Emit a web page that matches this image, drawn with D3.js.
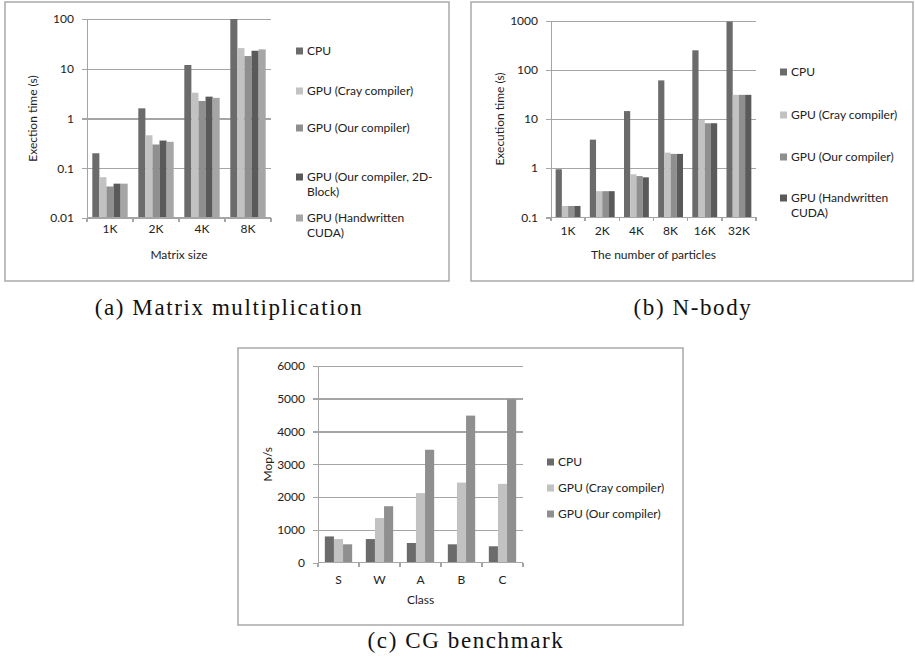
<!DOCTYPE html>
<html lang='en'>
<head>
<meta charset="utf-8">
<style>
body { margin: 0; background: #fff; }
svg { display: block; }
text { font-family: Lato, "Open Sans", sans-serif; font-size: 12px; fill: #222; }
.caption { font-family: "Liberation Serif", "DejaVu Serif", serif; font-size: 23px; letter-spacing: 1.6px; fill: #111; }
.box { fill: #fff; stroke: #a9a9a9; stroke-width: 1.5px; }
.grid line { stroke: #a5a5a5; stroke-width: 1.4px; shape-rendering: crispEdges; }
.grid path { display: none; }
.axis path, .axis line { stroke: #a5a5a5; stroke-width: 1.4px; shape-rendering: crispEdges; }
</style>
</head>
<body>
<svg width="915" height="665"></svg>
<script src="https://cdn.jsdelivr.net/npm/d3@7"></script>
<script>
  // (a) matrix multiplication, execution time (s)
  var matCategories = ["1K", "2K", "4K", "8K"],
      matCPU  = [0.2, 1.6, 11.9, 100],
      matCray = [0.066, 0.46, 3.3, 26],
      matOur  = [0.043, 0.30, 2.25, 18],
      mat2D   = [0.049, 0.36, 2.75, 23],
      matHand = [0.049, 0.34, 2.6, 24.5],
      matTicks = [0.01, 0.1, 1, 10, 100];

  // (b) n-body, execution time (s)
  var nbCategories = ["1K", "2K", "4K", "8K", "16K", "32K"],
      nbCPU  = [0.95, 3.8, 14.5, 61, 250, 960],
      nbCray = [0.17, 0.34, 0.75, 2.07, 9.7, 31],
      nbOur  = [0.17, 0.34, 0.69, 1.95, 8.2, 31],
      nbHand = [0.17, 0.34, 0.65, 1.95, 8.2, 31],
      nbTicks = [0.1, 1, 10, 100, 1000];

  // (c) CG benchmark, Mop/s
  var cgCategories = ["S", "W", "A", "B", "C"],
      cgCPU  = [800, 720, 600, 560, 500],
      cgCray = [720, 1360, 2120, 2440, 2400],
      cgOur  = [560, 1720, 3440, 4480, 4980],
      cgTicks = [0, 1000, 2000, 3000, 4000, 5000, 6000];

  var cCPU = "#6b6b6b", cCray = "#c2c2c2", cOur = "#8f8f8f", cDark = "#5a5a5a", cHand = "#a6a6a6";

  var svg = d3.select("svg");

  function panel(cfg) {
    var g = svg.append("g");
    g.append("rect").attr("class", "box")
        .attr("x", cfg.box[0]).attr("y", cfg.box[1])
        .attr("width", cfg.box[2] - cfg.box[0]).attr("height", cfg.box[3] - cfg.box[1]);

    var p = cfg.plot,
        x = d3.scaleBand().domain(cfg.categories).range([p.x0, p.x1]),
        xs = d3.scaleBand().domain(d3.range(cfg.series.length))
            .range([0, x.bandwidth()]).paddingInner(0).paddingOuter(0.75),
        y = (cfg.log ? d3.scaleLog() : d3.scaleLinear())
            .domain([cfg.ticks[0], cfg.ticks[cfg.ticks.length - 1]])
            .range([p.y1, p.y0]);

    g.append("g").attr("class", "grid")
        .attr("transform", "translate(" + p.x0 + ",0)")
        .call(d3.axisLeft(y).tickValues(cfg.ticks.slice(1)).tickSize(-(p.x1 - p.x0)).tickFormat(""));

    cfg.series.forEach(function(s, i) {
      g.append("g").selectAll("rect")
        .data(s.values)
        .enter().append("rect")
          .attr("x", function(d, j) { return x(cfg.categories[j]) + xs(i); })
          .attr("width", xs.bandwidth())
          .attr("y", function(d) { return y(d); })
          .attr("height", function(d) { return y.range()[0] - y(d); })
          .attr("fill", s.color);
    });

    var ya = g.append("g").attr("class", "axis")
        .attr("transform", "translate(" + p.x0 + ",0)")
        .call(d3.axisLeft(y).tickValues(cfg.ticks).tickSize(5).tickSizeOuter(0).tickPadding(8)
          .tickFormat(function(d) { return String(d); }));
    ya.selectAll("text").style("font-size", "12px").style("font-family", null);

    // category axis: ticks sit between the groups
    var xa = g.append("g").attr("class", "axis");
    xa.append("line").attr("x1", p.x0).attr("x2", p.x1).attr("y1", p.y1).attr("y2", p.y1);
    xa.selectAll(".tk")
      .data(cfg.categories.map(function(c) { return x(c); }).concat([p.x1]))
      .enter().append("line")
        .attr("x1", function(d) { return d; }).attr("x2", function(d) { return d; })
        .attr("y1", p.y1).attr("y2", p.y1 + 4);
    xa.selectAll("text")
      .data(cfg.categories)
      .enter().append("text")
        .attr("x", function(d) { return x(d) + x.bandwidth() / 2; })
        .attr("y", p.y1 + cfg.xLabelGap)
        .attr("text-anchor", "middle")
        .attr("dy", "0.35em")
        .text(function(d) { return d; });

    g.append("text")
        .attr("transform", "translate(" + cfg.yTitleX + "," + (p.y0 + p.y1) / 2 + ") rotate(-90)")
        .attr("text-anchor", "middle").attr("dy", "0.35em")
        .text(cfg.yTitle);
    g.append("text")
        .attr("x", (p.x0 + p.x1) / 2).attr("y", cfg.xTitleY)
        .attr("text-anchor", "middle").attr("dy", "0.35em")
        .text(cfg.xTitle);

    cfg.series.forEach(function(s, i) {
      var ly = cfg.legend.y[i];
      g.append("rect").attr("x", cfg.legend.x).attr("y", ly - 3.5)
          .attr("width", 7).attr("height", 7).attr("fill", s.color);
      var t = g.append("text").attr("x", cfg.legend.x + 11).attr("y", ly).attr("dy", "0.35em");
      s.label.forEach(function(line, k) {
        t.append("tspan").attr("x", cfg.legend.x + 11).attr("dy", k === 0 ? "0.35em" : "1.25em").text(line);
      });
    });

    svg.append("text").attr("class", "caption")
        .attr("x", cfg.caption.x).attr("y", cfg.caption.y)
        .attr("text-anchor", "middle")
        .text(cfg.caption.text);
  }

  panel({
    box: [5, 2, 449, 281],
    plot: {x0: 87, x1: 271, y0: 19, y1: 218},
    log: true,
    ticks: matTicks,
    categories: matCategories,
    series: [
      {values: matCPU, color: cCPU, label: ["CPU"]},
      {values: matCray, color: cCray, label: ["GPU (Cray compiler)"]},
      {values: matOur, color: cOur, label: ["GPU (Our compiler)"]},
      {values: mat2D, color: cDark, label: ["GPU (Our compiler, 2D-", "Block)"]},
      {values: matHand, color: cHand, label: ["GPU (Handwritten", "CUDA)"]}
    ],
    xLabelGap: 11,
    yTitle: "Exection time (s)", yTitleX: 33,
    xTitle: "Matrix size", xTitleY: 255,
    legend: {x: 296, y: [51, 91, 128, 177, 218]},
    caption: {text: "(a) Matrix multiplication", x: 229, y: 315}
  });

  panel({
    box: [471, 2, 913, 281],
    plot: {x0: 551, x1: 756, y0: 20.7, y1: 217.3},
    log: true,
    ticks: nbTicks,
    categories: nbCategories,
    series: [
      {values: nbCPU, color: cCPU, label: ["CPU"]},
      {values: nbCray, color: cCray, label: ["GPU (Cray compiler)"]},
      {values: nbOur, color: cOur, label: ["GPU (Our compiler)"]},
      {values: nbHand, color: cDark, label: ["GPU (Handwritten", "CUDA)"]}
    ],
    xLabelGap: 13,
    yTitle: "Execution time (s)", yTitleX: 500,
    xTitle: "The number of particles", xTitleY: 255,
    legend: {x: 780, y: [72, 115, 157, 198]},
    caption: {text: "(b) N-body", x: 693, y: 315}
  });

  panel({
    box: [238, 348, 683, 625],
    plot: {x0: 318, x1: 523, y0: 365.7, y1: 562.7},
    log: false,
    ticks: cgTicks,
    categories: cgCategories,
    series: [
      {values: cgCPU, color: cCPU, label: ["CPU"]},
      {values: cgCray, color: cCray, label: ["GPU (Cray compiler)"]},
      {values: cgOur, color: cOur, label: ["GPU (Our compiler)"]}
    ],
    xLabelGap: 17,
    yTitle: "Mop/s", yTitleX: 268,
    xTitle: "Class", xTitleY: 600,
    legend: {x: 547, y: [462, 488, 514]},
    caption: {text: "(c) CG benchmark", x: 466, y: 648}
  });
</script>
</body>
</html>
